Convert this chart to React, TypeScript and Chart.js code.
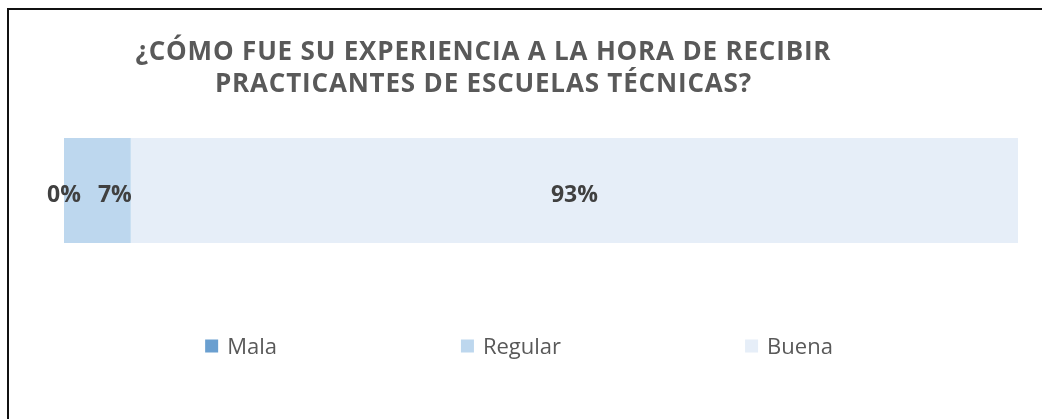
import React, { useEffect, useRef } from "react";
import { Chart, registerables } from "chart.js";

Chart.register(...registerables);

const titleLines = [
  "¿CÓMO FUE SU EXPERIENCIA A LA HORA DE RECIBIR",
  "PRACTICANTES DE ESCUELAS TÉCNICAS?",
];
const categories = [""];
const seriesNames = ["Mala", "Regular", "Buena"];
const seriesValues = [0, 7, 93];
const seriesColors = ["#6a9fd0", "#bdd7ee", "#e6eef8"];

const FONT = "'Open Sans', 'Noto Sans', sans-serif";

const decorPlugin = {
  id: "decor",
  afterDatasetsDraw(chart: any) {
    const ctx = chart.ctx;
    ctx.save();
    // data labels
    ctx.font = `bold 23px ${FONT}`;
    ctx.fillStyle = "#404040";
    ctx.textBaseline = "alphabetic";
    ctx.textAlign = "left";
    let prevRight = -Infinity;
    chart.data.datasets.forEach((ds: any, i: number) => {
      const meta = chart.getDatasetMeta(i);
      meta.data.forEach((el: any, j: number) => {
        const v = ds.data[j];
        const txt = `${v}%`;
        const w = ctx.measureText(txt).width;
        const left = Math.min(el.base, el.x);
        const right = Math.max(el.base, el.x);
        let x = (left + right) / 2 - w / 2;
        if (x < prevRight + 17) x = prevRight + 17;
        ctx.fillText(txt, x, el.y + 11.5);
        prevRight = x + w;
      });
    });
    // title
    ctx.font = `bold 26px ${FONT}`;
    ctx.fillStyle = "#595959";
    ctx.textAlign = "center";
    const w0 = ctx.measureText(titleLines[0]).width;
    const ls = Math.max(0, (695 - w0) / (titleLines[0].length - 1));
    (ctx as any).letterSpacing = `${ls.toFixed(2)}px`;
    titleLines.forEach((line, k) => {
      ctx.fillText(line, 483 + ls / 2, 60 + k * 32);
    });
    (ctx as any).letterSpacing = "0px";
    // legend
    ctx.font = `22px ${FONT}`;
    ctx.textAlign = "left";
    const box = 13;
    const gap = 9;
    const items = chart.data.datasets.map((ds: any) => ({
      text: ds.label,
      color: ds.backgroundColor,
      w: box + gap + ctx.measureText(ds.label).width,
    }));
    const itemGap = 184;
    const total = items.reduce((a: number, it: any) => a + it.w, 0) + itemGap * (items.length - 1);
    let x = 519 - total / 2;
    const y = 346;
    items.forEach((it: any) => {
      ctx.fillStyle = it.color;
      ctx.fillRect(x, y - box / 2, box, box);
      ctx.fillStyle = "#595959";
      ctx.fillText(it.text, x + box + gap, 354);
      x += it.w + itemGap;
    });
    ctx.restore();
  },
};

export default function App() {
  const ref = useRef<HTMLCanvasElement>(null);
  useEffect(() => {
    document.body.style.margin = "0";
    const chart = new Chart(ref.current!, {
      type: "bar",
      data: {
        labels: categories,
        datasets: seriesNames.map((name, i) => ({
          label: name,
          data: [seriesValues[i]],
          backgroundColor: seriesColors[i],
          borderWidth: 0,
          inflateAmount: 0,
          barThickness: 105,
        })),
      },
      options: {
        indexAxis: "y",
        animation: false,
        responsive: false,
        events: [],
        layout: { padding: { left: 64, right: 24, top: 100, bottom: 138 } },
        scales: {
          x: { stacked: true, min: 0, max: 100, display: false },
          y: { stacked: true, display: false },
        },
        plugins: {
          legend: { display: false },
          title: { display: false },
          tooltip: { enabled: false },
        },
      },
      plugins: [decorPlugin],
    });
    return () => chart.destroy();
  }, []);
  return (
    <div style={{ position: "relative", width: 1042, height: 419, background: "#fff", overflow: "hidden" }}>
      <canvas ref={ref} width={1042} height={419} style={{ position: "absolute", left: 0, top: 0 }} />
      <div
        style={{
          position: "absolute",
          left: 7,
          top: 8,
          width: 1100,
          height: 500,
          borderLeft: "2px solid #111",
          borderTop: "2px solid #111",
          pointerEvents: "none",
        }}
      />
    </div>
  );
}
